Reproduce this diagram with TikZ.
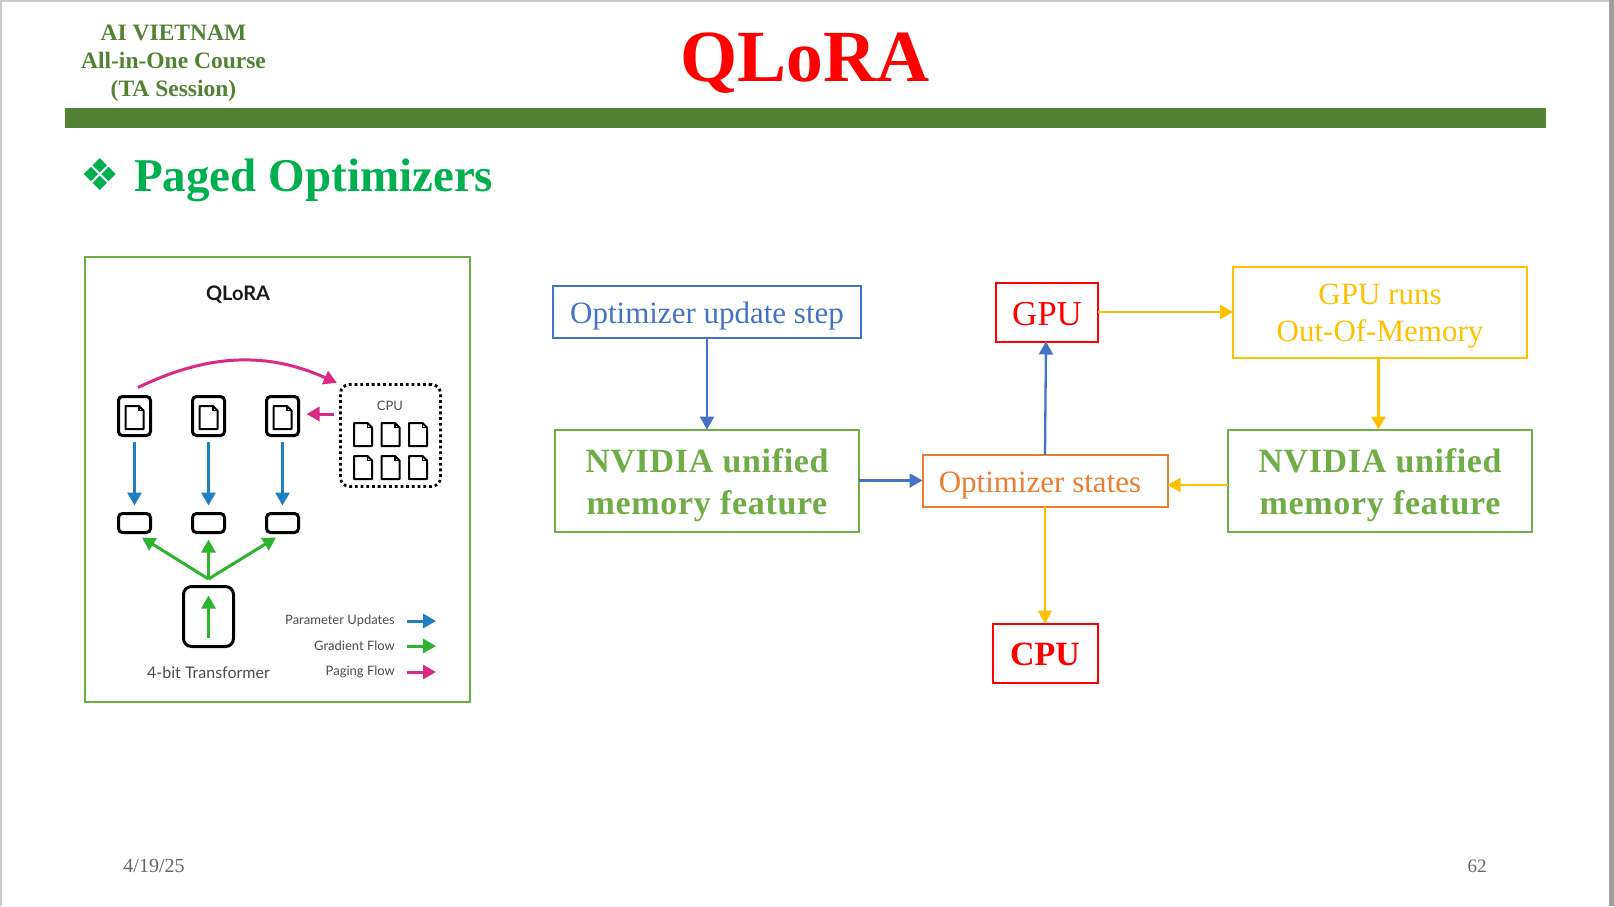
\documentclass[tikz,border=0pt]{standalone}
\usepackage{fontspec}
\setmainfont{Liberation Serif}
\setsansfont{Lato}
\newfontfamily\nvfont[LetterSpace=2]{Liberation Serif}
\newfontfamily\symfont{DejaVu Sans}
\usetikzlibrary{arrows.meta, positioning}

\definecolor{barGreen}{HTML}{548235}
\definecolor{headGreen}{HTML}{00B050}
\definecolor{flowBlue}{HTML}{4472C4}
\definecolor{flowGreen}{HTML}{70AD47}
\definecolor{flowOrange}{HTML}{ED7D31}
\definecolor{flowYellow}{HTML}{FFC000}
\definecolor{figBlue}{HTML}{1F7FC1}
\definecolor{figGreen}{HTML}{2DB32D}
\definecolor{figPink}{HTML}{DB2A83}

\newcommand{\lift}[1]{\rule{0pt}{#1pt}}

\begin{document}
\begin{tikzpicture} [
    x=1pt, y=-1pt,
    flowbox/.style={draw, line width=2pt, inner sep=0pt, outer sep=0pt, align=center},
    plainsize/.style={font=\fontsize{31}{37}\selectfont},
    nvbox/.style={flowbox, flowGreen, minimum width=304pt, minimum height=102pt,
      font=\fontsize{34}{42}\selectfont\nvfont\bfseries},
    flow edge/.style={draw, line width=2.3pt, -{Triangle[length=13pt, width=14pt]}},
    fig edge/.style={draw, line width=3pt, -{Triangle[length=13pt, width=14pt]}},
    iconbox/.style={draw, line width=3pt, rounded corners=4pt, inner sep=0pt, outer sep=0pt},
    figlabel/.style={inner sep=0pt, text=black!70, font=\sffamily\fontsize{13}{15}\selectfont},
    pagefile/.pic={
      \draw[line width=2pt, line join=round] (-9,-11.5) -- (4.5,-11.5) -- (9,-7)
        -- (9,11.5) -- (-9,11.5) -- cycle;
      \draw[line width=1.2pt] (4.5,-11.5) -- (4.5,-7) -- (9,-7);
    }
  ]

  % Slide frame
  \fill[white] (0,0) rectangle (1614,906);
  \useasboundingbox (0,0) rectangle (1614,906);
  \fill[black!20] (0,0) rectangle (1614,2);
  \fill[black!20] (0,0) rectangle (1.5,906);
  \fill[black!38] (1609,0) rectangle (1614,906);

  % Header
  \node (COURSE) [inner sep=0pt, align=center, text=barGreen,
    font=\fontsize{23.5}{28}\selectfont\bfseries] at (173.5,63)
    {AI VIETNAM\\All-in-One Course\\(TA Session)};
  \node (TITLE) [inner sep=0pt, anchor=base, text=red,
    font=\fontsize{73.5}{80}\selectfont\bfseries] at (805,81) {QLoRA};
  \fill[barGreen] (65,108) rectangle (1546,128);
  \node (BULLET) [inner sep=0pt, text=headGreen,
    font=\symfont\fontsize{44}{44}\selectfont] at (100,175) {❖};
  \node (HEADING) [inner sep=0pt, anchor=base west, text=headGreen,
    font=\fontsize{47}{50}\selectfont\bfseries] at (134,191) {Paged Optimizers};

  % Footer
  \node (DATE) [inner sep=0pt, text=black!60, font=\fontsize{20}{22}\selectfont] at (154,866) {4/19/25};
  \node (PAGENO) [inner sep=0pt, text=black!60, font=\fontsize{19}{22}\selectfont] at (1477,866) {62};

  % Left figure
  \node (FIGFRAME) [draw=flowGreen, line width=2.5pt, minimum width=385pt, minimum height=445pt,
    inner sep=0pt] at (277.5,479.5) {};
  \node (FIGTITLE) [inner sep=0pt, text=black!90, font=\sffamily\bfseries\fontsize{20}{22}\selectfont]
    at (238,295) {QLoRA};

  % Top row
  \node (DOCA) [iconbox, minimum width=32pt, minimum height=39pt] at (134.5,416) {};
  \node (DOCB) [iconbox, minimum width=32pt, minimum height=39pt, right=42pt of DOCA] {};
  \node (DOCC) [iconbox, minimum width=32pt, minimum height=39pt, right=42pt of DOCB] {};
  \pic at (134.5,417.5) {pagefile};
  \pic at (208.5,417.5) {pagefile};
  \pic at (282.5,417.5) {pagefile};

  % Paged memory
  \node (CPUBOX) [draw, line width=2.8pt, dash pattern=on 2.8pt off 2.9pt, rounded corners=9pt, inner sep=0pt, outer sep=0pt,
    minimum width=100pt, minimum height=102pt] at (390.5,435.5) {};
  \node (CPULABEL) [figlabel] at (390,406) {CPU};
  \pic at (363,434.5) {pagefile};
  \pic at (390.5,434.5) {pagefile};
  \pic at (418,434.5) {pagefile};
  \pic at (363,467.5) {pagefile};
  \pic at (390.5,467.5) {pagefile};
  \pic at (418,467.5) {pagefile};

  % Middle row
  \node (SLOTA) [iconbox, minimum width=32pt, minimum height=19pt] at (134.5,523) {};
  \node (SLOTB) [iconbox, minimum width=32pt, minimum height=19pt, right=42pt of SLOTA] {};
  \node (SLOTC) [iconbox, minimum width=32pt, minimum height=19pt, right=42pt of SLOTB] {};

  % Transformer
  \node (XFMR) [iconbox, rounded corners=8pt, minimum width=50pt, minimum height=60pt] at (208.5,616.5) {};
  \node (XFMRLABEL) [figlabel, font=\sffamily\fontsize{16}{20}\selectfont, below=20pt of XFMR] {4-bit Transformer};
  \coordinate (FORK) at (208.5,579);

  % Legend
  \node (LEGPARAM) [figlabel, anchor=east] at (395,621) {Parameter Updates};
  \node (LEGGRAD) [figlabel, anchor=east] at (395,646) {Gradient Flow};
  \node (LEGPAGE) [figlabel, anchor=east] at (395,672) {Paging Flow};

  % Figure edges
  \path (DOCA) edge [fig edge, figBlue, shorten <=6pt, shorten >=8pt] (SLOTA);
  \path (DOCB) edge [fig edge, figBlue, shorten <=6pt, shorten >=8pt] (SLOTB);
  \path (DOCC) edge [fig edge, figBlue, shorten <=6pt, shorten >=8pt] (SLOTC);

  \path (FORK) edge [fig edge, figGreen] ([xshift=7.5pt,yshift=-5pt]SLOTA.south);
  \path (FORK) edge [fig edge, figGreen] ([yshift=-7pt]SLOTB.south);
  \path (FORK) edge [fig edge, figGreen] ([xshift=-6.5pt,yshift=-5pt]SLOTC.south);
  \path ([yshift=9pt]XFMR.south) edge [fig edge, figGreen] ([yshift=-9pt]XFMR.north);

  \path ([xshift=3.5pt,yshift=9pt]DOCA.north) edge [fig edge, figPink, bend left=25, shorten >=4pt] (CPUBOX.north west);
  \path ([xshift=-7pt,yshift=21.5pt]CPUBOX.west) edge [fig edge, figPink] ([xshift=8pt,yshift=2pt]DOCC.east);

  \path ([xshift=12pt]LEGPARAM.east) edge [fig edge, figBlue] ([xshift=41pt]LEGPARAM.east);
  \path ([xshift=12pt]LEGGRAD.east) edge [fig edge, figGreen] ([xshift=41pt]LEGGRAD.east);
  \path ([xshift=12pt]LEGPAGE.east) edge [fig edge, figPink] ([xshift=41pt]LEGPAGE.east);

  % Flow chart, left side
  \node (OPTSTEP) [flowbox, flowBlue, plainsize, minimum width=308pt, minimum height=52pt] at (707,311.5) {\lift{31}Optimizer update step};
  \node (NVLEFT) [nvbox, below=92pt of OPTSTEP] {\lift{33}NVIDIA unified\\memory feature};

  % Flow chart, centre
  \node (OPTSTATES) [flowbox, flowOrange, plainsize, minimum width=245pt, minimum height=52pt, right=63.5pt of NVLEFT] {\lift{30}Optimizer states\hspace*{10pt}};
  \node (GPU) [flowbox, red, font=\fontsize{35}{40}\selectfont, minimum width=102pt, minimum height=59pt,
    above=113pt of OPTSTATES, xshift=2pt] {\lift{27}GPU};
  \node (CPU) [flowbox, red, font=\fontsize{34}{40}\selectfont\bfseries, minimum width=105pt, minimum height=59pt,
    below=117pt of OPTSTATES] {\lift{25}CPU};

  % Flow chart, right side
  \node (GPURUNS) [flowbox, flowYellow, plainsize, minimum width=294pt, minimum height=91pt, right=135pt of GPU, yshift=-0.5pt] {\lift{28}GPU runs\\Out-Of-Memory};
  \node (NVRIGHT) [nvbox, below=71.5pt of GPURUNS] {\lift{33}NVIDIA unified\\memory feature};

  % Flow edges
  \path (OPTSTEP) edge [flow edge, flowBlue] (OPTSTEP |- NVLEFT.north);
  \path (NVLEFT) edge [flow edge, flowBlue] (OPTSTATES);
  \path (OPTSTATES.north) edge [flow edge, flowBlue] ([xshift=-1pt]GPU.south);
  \path (GPU) edge [flow edge, flowYellow] (GPURUNS.west |- GPU);
  \path ([xshift=-1.5pt]GPURUNS.south) edge [flow edge, flowYellow] ([xshift=-1.5pt]NVRIGHT.north);
  \path ([yshift=-4.5pt]NVRIGHT.west) edge [flow edge, flowYellow] ([yshift=-4.5pt]OPTSTATES.east);
  \path (OPTSTATES) edge [flow edge, flowYellow] (OPTSTATES |- CPU.north);

\end{tikzpicture}
\end{document}
